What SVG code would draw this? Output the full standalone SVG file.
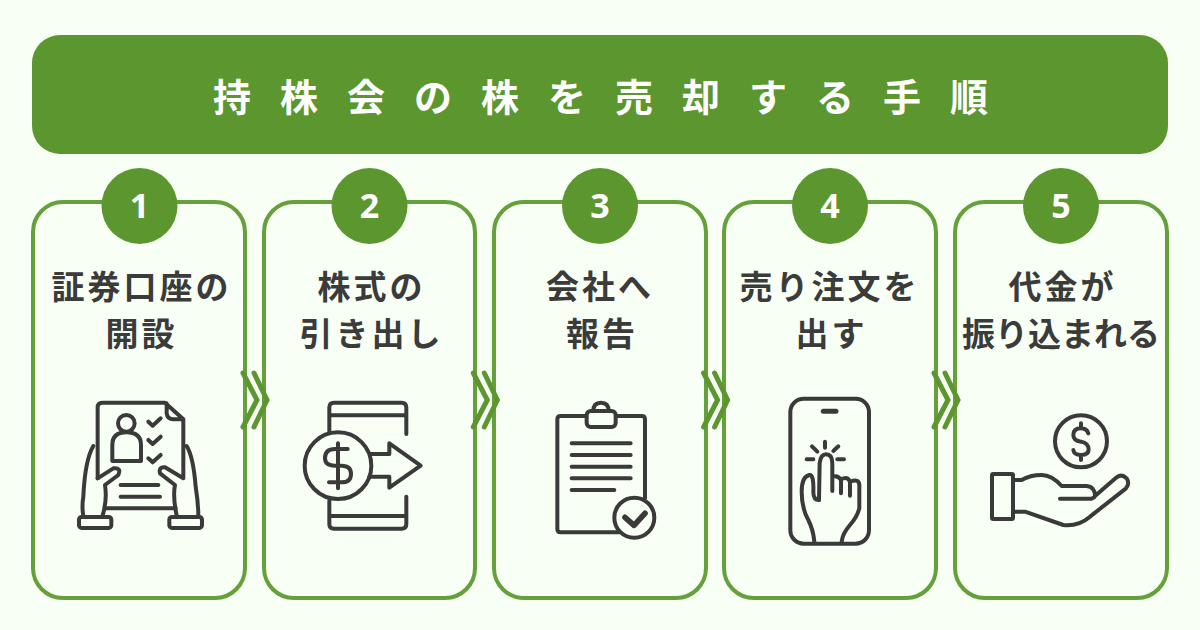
<svg xmlns="http://www.w3.org/2000/svg" width="1200" height="630" viewBox="0 0 1200 630">
<style>
.card{fill:#f8fff4;stroke:#65a03a;stroke-width:4}
.num{fill:#5c962f}
.n{font:700 34px "Noto Sans","Liberation Sans",sans-serif;fill:#fff;text-anchor:middle}
.t{font:700 33px "Noto Sans CJK JP",sans-serif;fill:#3b3b3b;text-anchor:middle;letter-spacing:3px}
.h{font:700 38px "Noto Sans CJK JP",sans-serif;fill:#fff;letter-spacing:29px}
.i{fill:none;stroke:#3a3a3a;stroke-width:12;stroke-linecap:round;stroke-linejoin:round}
.c{fill:none;stroke:#5c962f;stroke-width:5;stroke-linecap:round;stroke-linejoin:miter}
</style>
<rect width="1200" height="630" fill="#f8fff4"/>
<g id="header"><rect x="32" y="35" width="1136" height="119" rx="28" fill="#5c962f"/><text class="h" x="213" y="110.500">持株会の株を売却する手順</text></g>

<g id="step1">
<rect class="card" x="33" y="202" width="212" height="396" rx="30"/>
<circle class="num" cx="139.500" cy="206" r="38"/><text class="n" x="139.500" y="218">1</text>
<text class="t" x="141.500" y="299">証券口座の</text><text class="t" x="141.500" y="346">開設</text>
<g class="i" transform="translate(30 370) scale(.3333)">
<path d="M203 325V112Q203 98 217 98H405L460 148V325L405 292Q385 290 390 310L435 345Q428 380 440 436M410 100V130Q412 148 430 148H460"/>
<path d="M203 325L250 295Q275 292 265 315L225 345Q232 390 218 436M190 228Q165 270 160 380Q155 410 160 438M470 228Q490 260 497 350Q505 400 505 438M225 415H437M272 345H385M272 380H390"/>
<rect x="147" y="441" width="97" height="33" rx="8"/><rect x="418" y="441" width="98" height="33" rx="8"/>
<circle cx="289" cy="160" r="25"/><path d="M247 273V225Q247 187 289 187Q333 187 333 225V273Z"/>
<path d="M355 155L368 167L392 145M355 210L368 222L392 200M355 265L368 277L392 255"/>
</g></g>

<g id="step2">
<rect class="card" x="264" y="202" width="211" height="396" rx="30"/>
<circle class="num" cx="369.500" cy="206" r="38"/><text class="n" x="369.500" y="218">2</text>
<text class="t" x="371.500" y="299">株式の</text><text class="t" x="371.500" y="346">引き出し</text>
<g class="i" transform="translate(280 380) scale(.3333)">
<path d="M148 155V82Q148 68 162 68H365Q379 68 379 82V162M148 106H379M148 362V432Q148 446 162 446H365Q379 446 379 432V350M148 408H379"/>
<circle cx="174" cy="257" r="100"/>
<path d="M174 190V325M203 207H165Q135 207 135 235Q135 257 165 257H185Q213 257 213 282Q213 307 185 307H147"/>
<path d="M272 222H328V190L422 257L328 323V290H268"/>
</g></g>

<g id="step3">
<rect class="card" x="494" y="202" width="212" height="396" rx="30"/>
<circle class="num" cx="600" cy="206" r="38"/><text class="n" x="600" y="218">3</text>
<text class="t" x="600" y="299">会社へ</text><text class="t" x="602" y="346">報告</text>
<g class="i" transform="translate(530 380) scale(.3333)">
<path d="M168 108H92Q82 108 82 118V447Q82 457 92 457H268M258 108H335Q345 108 345 118V355"/>
<rect x="170" y="93" width="87" height="48" rx="12"/><path d="M190 93Q190 68 213 68Q236 68 236 93"/>
<path d="M125 190H302M125 225H302M125 260H302M125 295H302M125 330H253"/>
<circle cx="313" cy="413" r="60"/><path d="M285 412L312 436L345 400" stroke-width="17"/>
</g></g>

<g id="step4">
<rect class="card" x="724" y="202" width="212" height="396" rx="30"/>
<circle class="num" cx="830" cy="206" r="38"/><text class="n" x="830" y="218">4</text>
<text class="t" x="829.500" y="299">売り注文を</text><text class="t" x="831.500" y="346">出す</text>
<g class="i" transform="translate(770 385) scale(.3333)">
<rect x="61" y="41" width="236" height="435" rx="40"/>
<path d="M160 79H198" stroke-width="15"/>
<path d="M165 170V188M126 184L142 200M205 184L190 198M110 223H130M202 223H222"/>
<path d="M147 345L149 235Q152 208 168 208Q187 208 187 235V318M187 275Q205 270 213 285V325M213 283Q235 272 240 292V332M240 290Q268 280 268 300V370Q262 395 240 420Q218 445 215 470"/>
<path d="M147 345Q130 345 130 320Q132 268 118 270Q95 275 95 320Q95 370 115 405Q130 435 133 470"/>
</g></g>

<g id="step5">
<rect class="card" x="955" y="202" width="212" height="396" rx="30"/>
<circle class="num" cx="1061" cy="206" r="38"/><text class="n" x="1061" y="218">5</text>
<text class="t" x="1062.500" y="299">代金が</text><text class="t" x="1061" y="346" style="letter-spacing:0">振り込まれる</text>
<g class="i" transform="translate(980 400) scale(.3333)">
<circle cx="303" cy="124" r="78"/>
<path d="M303 70V85M303 165V180M325 100Q320 85 303 85Q280 85 280 105Q280 122 303 125Q326 130 326 148Q326 165 303 165Q282 165 280 150"/>
<rect x="36" y="222" width="63" height="135" rx="4"/>
<path d="M99 240H125Q150 225 185 225Q215 225 245 258H320Q345 260 345 288L410 232Q425 220 440 235Q450 250 438 265L330 350Q295 380 250 375L135 335H99M240 296H335Q345 292 345 288"/>
</g></g>

<g id="connectors">
<path class="c" d="M243 373L257 400L243 427M254 373L267 400L254 427"/>
<path class="c" d="M473.300 373L487.300 400L473.300 427M484.300 373L497.300 400L484.300 427"/>
<path class="c" d="M703.600 373L717.600 400L703.600 427M714.600 373L727.600 400L714.600 427"/>
<path class="c" d="M934 373L948 400L934 427M945 373L958 400L945 427"/>
</g>
</svg>
